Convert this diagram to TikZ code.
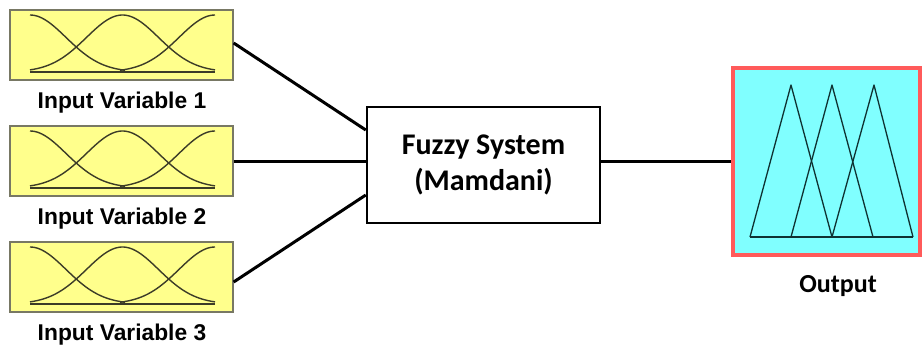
\documentclass[tikz,border=0pt]{standalone}
\usepackage{fontspec}
\setmainfont{Liberation Sans}
\newfontfamily\calib{Carlito}
\definecolor{inyellow}{RGB}{255,255,140}
\definecolor{inborder}{RGB}{120,120,100}
\definecolor{mfcol}{RGB}{60,60,40}
\definecolor{outcyan}{RGB}{128,255,255}
\definecolor{outred}{RGB}{255,90,90}
\definecolor{tricol}{RGB}{15,50,50}
\tikzset{
  inbox/.style={draw=inborder, line width=1.3pt, fill=inyellow, minimum width=223pt, minimum height=70pt, inner sep=0pt},
  inlabel/.style={font=\fontsize{22.8}{24}\selectfont\bfseries, anchor=base, inner sep=0pt},
  fuzzybox/.style={draw=black, line width=2.5pt, minimum width=233pt, minimum height=116pt, inner sep=0pt, align=center, font=\calib\fontsize{30}{36}\selectfont\bfseries},
  outbox/.style={draw=outred, line width=3.2pt, fill=outcyan, minimum width=187pt, minimum height=187pt, inner sep=0pt},
  outlabel/.style={font=\calib\fontsize{26}{27}\selectfont\bfseries, anchor=base, inner sep=0pt},
  conn/.style={line width=3pt, black},
  mf/.style={mfcol, line width=1.4pt},
  tri/.style={tricol, line width=1.3pt, line join=round}
}
\begin{document}
\begin{tikzpicture}[x=1pt,y=-1pt]
\useasboundingbox (0,0) rectangle (922,346);
% input boxes
\node[inbox] (in1) at (121.5,45) {};
\node[inbox] (in2) at (121.5,161) {};
\node[inbox] (in3) at (121.5,277) {};
\node[inlabel] (l1) at (122,108) {Input Variable 1};
\node[inlabel] (l2) at (122,224) {Input Variable 2};
\node[inlabel] (l3) at (122,340) {Input Variable 3};
% membership functions
\foreach \yo in {0,116,232}{
  \draw[mf] plot[domain=30:125,samples=50,smooth] (\x,{\yo+72-57*exp(-0.5*pow((\x-30)/36,2))});
  \draw[mf] plot[domain=30:215,samples=80,smooth] (\x,{\yo+72-57*exp(-0.5*pow((\x-122.5)/36,2))});
  \draw[mf] plot[domain=120:215,samples=50,smooth] (\x,{\yo+72-57*exp(-0.5*pow((\x-215)/36,2))});
  \draw[mf] (30,\yo+72) -- (215,\yo+72);
}
% fuzzy system
\node[fuzzybox] (fz) at (483.5,165) {Fuzzy System\\(Mamdani)};
% output
\node[outbox] (out) at (826.5,161.5) {};
\node[outlabel] (ol) at (838,292) {Output};
\draw[tri] (750,237) -- (791,85) -- (832,237);
\draw[tri] (791,237) -- (832,85) -- (873,237);
\draw[tri] (832,237) -- (874,85) -- (913,237);
\draw[tri] (750,237) -- (913,237);
% connectors
\coordinate (t1) at ([yshift=35pt]fz.west);
\coordinate (t3) at ([yshift=-30pt]fz.west);
\draw[conn] ([yshift=2pt]in1.east) -- (t1);
\draw[conn] (in2.east) -- (in2.east -| fz.west);
\draw[conn] ([yshift=-5pt]in3.east) -- (t3);
\draw[conn] (out.west -| fz.east) -- (out.west);
\end{tikzpicture}
\end{document}
